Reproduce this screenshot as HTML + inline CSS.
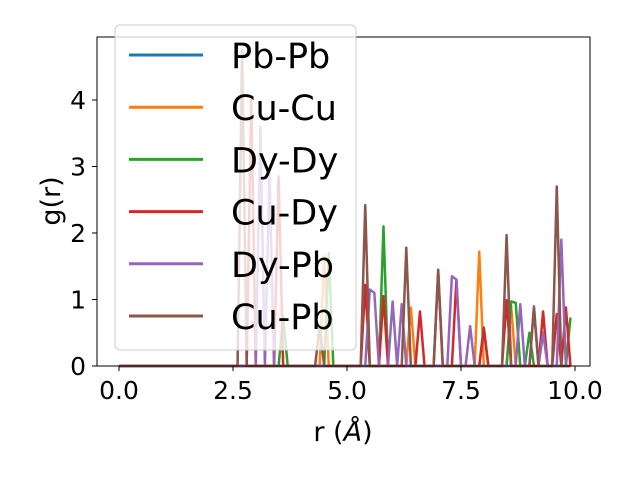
<!DOCTYPE html>
<html><head><meta charset="utf-8"><style>
body{margin:0;background:#fff}
svg{display:block;font-family:"DejaVu Sans","Liberation Sans",sans-serif}
</style></head><body>
<svg id="chart" width="640" height="480" viewBox="0 0 640 480">
<rect width="640" height="480" fill="#fff"/>
<g id="series"></g>
<rect x="97" y="37" width="493" height="329" fill="none" stroke="#000" stroke-width="1"/>
<g id="xticks"></g>
<g id="yticks"></g>
<text x="343" y="441" font-size="27" text-anchor="middle">r (<tspan font-style="italic">Å</tspan>)</text>
<text transform="translate(60,201) rotate(-90)" font-size="27" text-anchor="middle">g(r)</text>
<g id="legend"></g>
</svg>
<script>
const names=["Pb-Pb","Cu-Cu","Dy-Dy","Cu-Dy","Dy-Pb","Cu-Pb"];
const colors=["#1f77b4","#ff7f0e","#2ca02c","#d62728","#9467bd","#8c564b"];
const gridR=[];for(let i=0;i<100;i++)gridR.push(+(i*0.1).toFixed(1));
// sparse peaks: [r, g]
const peaksPbPb=[];
const peaksCuCu=[[4.5,1.65],[6.4,0.88],[7.9,1.72],[8.6,0.9]];
const peaksDyDy=[[3.6,0.75],[4.6,1.7],[5.8,2.1],[8.0,0.58],[8.6,0.97],[8.7,0.95],[9.0,0.5],[9.9,0.73]];
const peaksCuDy=[[2.9,4.0],[3.5,2.85],[5.4,1.22],[5.8,1.05],[6.6,0.82],[7.0,1.41],[7.4,1.3],[8.0,0.57],[8.5,0.99],[9.3,0.82],[9.6,0.78],[9.8,0.88]];
const peaksDyPb=[[3.1,3.6],[3.3,2.9],[5.5,1.15],[5.6,1.1],[6.0,0.97],[6.2,0.93],[7.3,1.35],[7.4,1.3],[7.7,0.6],[8.8,0.93],[9.1,0.9],[9.3,0.5],[9.7,1.9]];
const peaksCuPb=[[2.7,4.75],[4.4,0.6],[5.4,2.42],[6.3,1.78],[7.0,1.45],[8.5,1.97],[9.1,0.87],[9.6,2.7]];
const allPeaks=[peaksPbPb,peaksCuCu,peaksDyDy,peaksCuDy,peaksDyPb,peaksCuPb];
const xTicks=[0,2.5,5,7.5,10];const xTickLabels=["0.0","2.5","5.0","7.5","10.0"];
const yTicks=[0,1,2,3,4];const yTickLabels=["0","1","2","3","4"];
const X=r=>119+r*45.6, Y=g=>366-g*66.5;
const NS="http://www.w3.org/2000/svg";
const sg=document.getElementById('series');
allPeaks.forEach((pk,si)=>{
  const vals=gridR.map(()=>0);
  pk.forEach(([r,g])=>{vals[Math.round(r*10)]=g;});
  const p=document.createElementNS(NS,'polyline');
  p.setAttribute('points',gridR.map((r,i)=>X(r)+','+Y(vals[i])).join(' '));
  p.setAttribute('fill','none');p.setAttribute('stroke',colors[si]);p.setAttribute('stroke-width','2.5');p.setAttribute('stroke-linejoin','round');
  
  
  sg.appendChild(p);
});
const xg=document.getElementById('xticks');
xTicks.forEach((t,i)=>{
  const l=document.createElementNS(NS,'line');
  l.setAttribute('x1',X(t));l.setAttribute('x2',X(t));l.setAttribute('y1',366);l.setAttribute('y2',371);l.setAttribute('stroke','#000');
  
  
  xg.appendChild(l);
  const tx=document.createElementNS(NS,'text');
  tx.setAttribute('x',X(t));tx.setAttribute('y',399);tx.setAttribute('font-size','25');tx.setAttribute('text-anchor','middle');tx.textContent=xTickLabels[i];
  
  
  xg.appendChild(tx);
});
const yg=document.getElementById('yticks');
yTicks.forEach((t,i)=>{
  const l=document.createElementNS(NS,'line');
  l.setAttribute('x1',92);l.setAttribute('x2',97);l.setAttribute('y1',Y(t));l.setAttribute('y2',Y(t));l.setAttribute('stroke','#000');
  
  
  yg.appendChild(l);
  const tx=document.createElementNS(NS,'text');
  tx.setAttribute('x',86);tx.setAttribute('y',Y(t)+9);tx.setAttribute('font-size','25');tx.setAttribute('text-anchor','end');tx.textContent=yTickLabels[i];
  
  
  yg.appendChild(tx);
});
const lg=document.getElementById('legend');
const box=document.createElementNS(NS,'rect');
box.setAttribute('x',115);box.setAttribute('y',25);box.setAttribute('width',241);box.setAttribute('height',325);box.setAttribute('rx',5);
box.setAttribute('fill','rgba(255,255,255,0.8)');box.setAttribute('stroke','#ccc');


lg.appendChild(box);
names.forEach((n,i)=>{
  const y=55+i*52.2;
  const l=document.createElementNS(NS,'line');
  l.setAttribute('x1',129);l.setAttribute('x2',203);l.setAttribute('y1',y);l.setAttribute('y2',y);l.setAttribute('stroke',colors[i]);l.setAttribute('stroke-width','3');
  
  
  lg.appendChild(l);
  const t=document.createElementNS(NS,'text');
  t.setAttribute('x',231);t.setAttribute('y',y+13);t.setAttribute('font-size','35');t.textContent=n;
  
  
  lg.appendChild(t);
});
</script>
</body></html>
